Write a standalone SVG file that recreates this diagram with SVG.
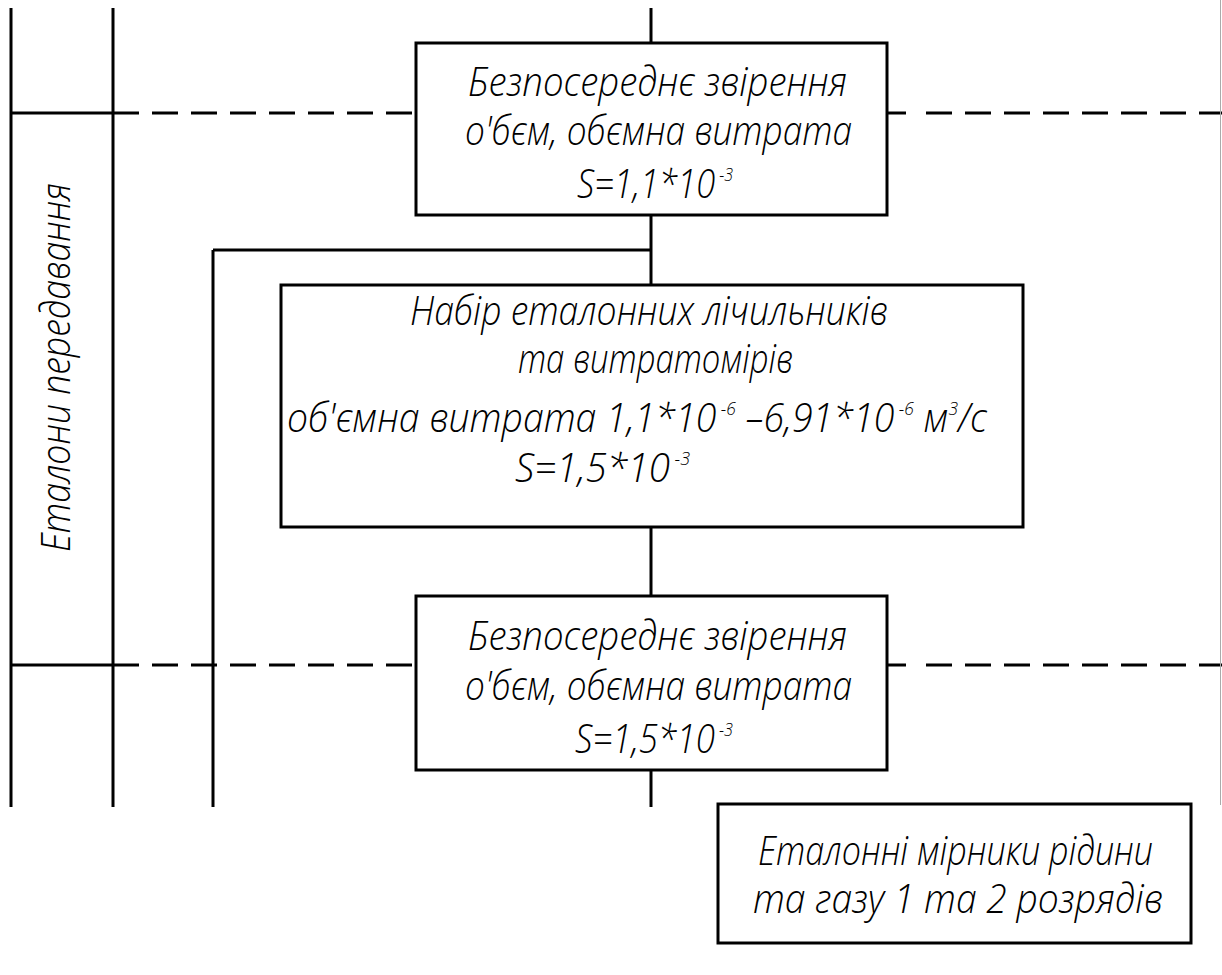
<svg xmlns="http://www.w3.org/2000/svg" width="1222" height="975" viewBox="0 0 1222 975">
<style>
.ln{stroke:#000;stroke-width:3;fill:none}
.dash{stroke:#000;stroke-width:3;fill:none;stroke-dasharray:26 13}
.box{stroke:#000;stroke-width:3;fill:#fff}
.t{font-family:"Open Sans","Liberation Sans","DejaVu Sans",sans-serif;font-style:italic;font-weight:300;font-size:41px;fill:#000}
.sup{font-size:19px}
</style>
<rect x="0" y="0" width="1222" height="975" fill="#fff"/>
<g id="connectors">
<line class="ln" x1="11" y1="8" x2="11" y2="807"/>
<line class="ln" x1="113" y1="8" x2="113" y2="807"/>
<line class="ln" x1="213" y1="250" x2="213" y2="807"/>
<line class="ln" x1="11" y1="113" x2="113" y2="113"/>
<line class="dash" x1="113" y1="113" x2="416" y2="113"/>
<line class="ln" x1="887" y1="113" x2="906" y2="113"/>
<line class="dash" x1="926" y1="113" x2="1222" y2="113"/>
<line class="ln" x1="11" y1="665" x2="113" y2="665"/>
<line class="dash" x1="113" y1="665" x2="416" y2="665"/>
<line class="ln" x1="887" y1="665" x2="906" y2="665"/>
<line class="dash" x1="926" y1="665" x2="1222" y2="665"/>
<line class="ln" x1="651" y1="8" x2="651" y2="43"/>
<line class="ln" x1="651" y1="215" x2="651" y2="285"/>
<line class="ln" x1="651" y1="527" x2="651" y2="596"/>
<line class="ln" x1="651" y1="770" x2="651" y2="807"/>
<line class="ln" x1="213" y1="250" x2="651" y2="250"/>
<line x1="1220.5" y1="0" x2="1220.5" y2="805" stroke="#aaa" stroke-width="1"/>
</g>
<g id="label-vertical">
<text class="t" x="70" y="552" transform="rotate(-90 70 552)" textLength="369" lengthAdjust="spacingAndGlyphs">Еталони передавання</text>
</g>
<g id="node-top">
<rect class="box" x="416" y="43" width="471" height="172"/>
<text class="t" x="468" y="96" textLength="379" lengthAdjust="spacingAndGlyphs">Безпосереднє звірення</text>
<text class="t" x="465" y="145" textLength="387" lengthAdjust="spacingAndGlyphs">о'бєм, обємна витрата</text>
<text class="t" x="577" y="198" textLength="156" lengthAdjust="spacingAndGlyphs">S=1,1*10<tspan class="sup" dy="-17"> -3</tspan></text>
</g>
<g id="node-middle">
<rect class="box" x="281" y="285" width="742" height="242"/>
<text class="t" x="410" y="325" textLength="478" lengthAdjust="spacingAndGlyphs">Набір еталонних лічильників</text>
<text class="t" x="518" y="373" textLength="275" lengthAdjust="spacingAndGlyphs">та витратомірів</text>
<text class="t" x="287" y="432" textLength="700" lengthAdjust="spacingAndGlyphs">об'ємна витрата 1,1*10<tspan class="sup" dy="-17"> -6</tspan><tspan dy="17"> –6,91*10</tspan><tspan class="sup" dy="-17"> -6</tspan><tspan dy="17"> м</tspan><tspan class="sup" dy="-17">3</tspan><tspan dy="17">/с</tspan></text>
<text class="t" x="515" y="482" textLength="175" lengthAdjust="spacingAndGlyphs">S=1,5*10<tspan class="sup" dy="-17"> -3</tspan></text>
</g>
<g id="node-bottom">
<rect class="box" x="416" y="596" width="471" height="174"/>
<text class="t" x="468" y="650" textLength="379" lengthAdjust="spacingAndGlyphs">Безпосереднє звірення</text>
<text class="t" x="465" y="700" textLength="387" lengthAdjust="spacingAndGlyphs">о'бєм, обємна витрата</text>
<text class="t" x="575" y="753" textLength="158" lengthAdjust="spacingAndGlyphs">S=1,5*10<tspan class="sup" dy="-17"> -3</tspan></text>
</g>
<g id="node-measures">
<rect class="box" x="718" y="804" width="473" height="139"/>
<text class="t" x="758" y="865" textLength="395" lengthAdjust="spacingAndGlyphs">Еталонні мірники рідини</text>
<text class="t" x="753" y="913" textLength="410" lengthAdjust="spacingAndGlyphs">та газу 1 та 2 розрядів</text>
</g>
</svg>
